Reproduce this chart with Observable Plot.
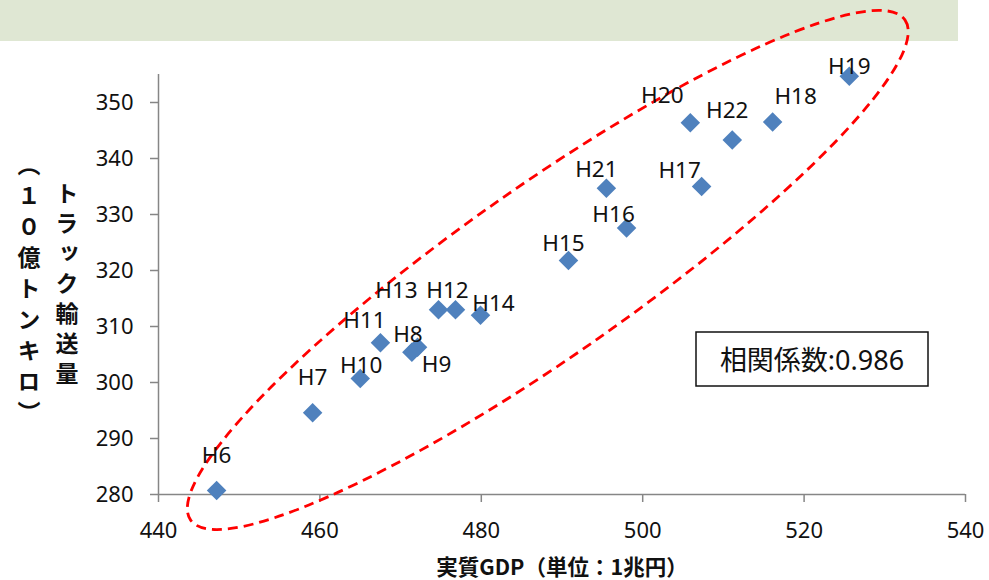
<!DOCTYPE html>
<html>
<head>
<meta charset="utf-8">
<script src="https://cdn.jsdelivr.net/npm/d3@7"></script>
<script src="https://cdn.jsdelivr.net/npm/@observablehq/plot@0.6"></script>
<style>
  html, body { margin: 0; padding: 0; background: #fff; }
  #chart svg { display: block; }
</style>
</head>
<body>
<div id="chart"></div>
<script>
// Fiscal years (Heisei), real GDP (trillion yen) and truck freight (billion ton-km)
const years = ["H6", "H7", "H8", "H9", "H10", "H11", "H12", "H13", "H14",
               "H15", "H16", "H17", "H18", "H19", "H20", "H21", "H22"];
const gdp = [447.2, 459.1, 471.4, 472.1, 465.0, 467.5, 476.8, 474.7, 479.9,
             490.8, 498.0, 507.3, 516.1, 525.6, 505.9, 495.5, 511.1];
const truck = [280.7, 294.6, 305.4, 306.3, 300.7, 307.1, 313.0, 313.0, 312.0,
               321.8, 327.6, 335.0, 346.5, 354.7, 346.4, 334.7, 343.3];
const xTicks = [440, 460, 480, 500, 520, 540];
const yTicks = [280, 290, 300, 310, 320, 330, 340, 350];
const correlation = "0.986";

const xTitle = "実質GDP（単位：1兆円）";
const yTitle = "トラック輸送量";
const yUnit = "（１０億トンキロ）";

const rows = years.map((name, i) => ({name, gdp: gdp[i], truck: truck[i]}));

// label nudges (px) so the year tags sit clear of neighbouring markers
const nudge = {
  H6: [0, -35], H7: [0, -35], H8: [-4, -17], H9: [19, 18], H10: [1, -13],
  H11: [-16, -22], H12: [-8, -19], H13: [-42, -19], H14: [13, -12],
  H15: [-5, -17], H16: [-13, -13], H17: [-22, -16], H18: [23, -25],
  H19: [0, -9], H20: [-28, -27], H21: [-10, -18], H22: [-5, -29]
};

const latin = "'Noto Sans', 'Noto Sans CJK JP', sans-serif";
const cjk = "'Noto Sans CJK JP', 'Noto Sans', sans-serif";
const blue = "#4f81bd";
const axisGray = "#868686";

// light green header band behind the top of the chart
const band = () => {
  const r = d3.create("svg:rect")
    .attr("x", 0).attr("y", 0).attr("width", 958).attr("height", 41)
    .attr("fill", "#dfe7d3");
  return r.node();
};

// dashed ellipse enclosing the point cloud, centred in data space
const ellipse = (index, scales) => {
  const g = d3.create("svg:g");
  const cx = scales.x(488.3), cy = scales.y(320);
  g.append("ellipse")
    .attr("cx", 0).attr("cy", 0).attr("rx", 436).attr("ry", 85)
    .attr("transform", `translate(${cx},${cy}) rotate(-35)`)
    .attr("fill", "none")
    .attr("stroke", "#ff0000")
    .attr("stroke-width", 2.8)
    .attr("stroke-dasharray", "10,6");
  return g.node();
};

const labelMarks = rows.map(d => Plot.text([d], {
  x: "gdp", y: "truck", text: "name",
  dx: nudge[d.name][0], dy: nudge[d.name][1],
  fontSize: 22.5, fill: "#111", fontFamily: latin
}));

const plot = Plot.plot({
  width: 989,
  height: 580,
  marginLeft: 158,
  marginRight: 24,
  marginTop: 74,
  marginBottom: 86,
  style: {fontFamily: latin, background: "#fff", overflow: "visible"},
  x: {domain: [440, 540]},
  y: {domain: [280, 355]},
  marks: [
    band,
    Plot.ruleX([440], {stroke: axisGray, strokeWidth: 1.5}),
    Plot.ruleY([280], {stroke: axisGray, strokeWidth: 1.5}),
    Plot.axisX({ticks: xTicks, tickSize: 8, tickPadding: 20, stroke: axisGray,
                strokeWidth: 1.5, fill: "#111", fontSize: 22, label: null}),
    Plot.axisY({ticks: yTicks, tickSize: 8, tickPadding: 17, stroke: axisGray,
                strokeWidth: 1.5, fill: "#111", fontSize: 22, label: null}),
    ellipse,
    Plot.dot(rows, {x: "gdp", y: "truck", symbol: "diamond2", r: 8.8,
                    fill: blue, stroke: null}),
    ...labelMarks
  ]
});

document.getElementById("chart").append(plot);

const svg = d3.select(plot);

// axis titles
svg.append("text")
  .attr("x", 562).attr("y", 565)
  .attr("text-anchor", "middle")
  .attr("dominant-baseline", "central")
  .attr("font-family", cjk)
  .attr("font-weight", "bold")
  .attr("font-size", 21.5)
  .attr("fill", "#111")
  .text(xTitle);

svg.append("text")
  .attr("x", 67).attr("y", 287)
  .attr("text-anchor", "middle")
  .attr("font-family", cjk)
  .attr("font-weight", "bold")
  .attr("font-size", 23)
  .attr("letter-spacing", 7)
  .attr("fill", "#111")
  .style("writing-mode", "vertical-rl")
  .text(yTitle);

svg.append("text")
  .attr("x", 29).attr("y", 292)
  .attr("text-anchor", "middle")
  .attr("font-family", cjk)
  .attr("font-weight", "bold")
  .attr("font-size", 23)
  .attr("letter-spacing", 8)
  .attr("fill", "#111")
  .style("writing-mode", "vertical-rl")
  .text(yUnit);

// correlation coefficient box
svg.append("rect")
  .attr("x", 696).attr("y", 332).attr("width", 232).attr("height", 54)
  .attr("fill", "#fff").attr("stroke", "#111").attr("stroke-width", 1.5);
svg.append("text")
  .attr("x", 812).attr("y", 359)
  .attr("text-anchor", "middle")
  .attr("dominant-baseline", "central")
  .attr("font-family", latin)
  .attr("font-size", 27)
  .attr("fill", "#111")
  .text("相関係数:" + correlation);
</script>
</body>
</html>
